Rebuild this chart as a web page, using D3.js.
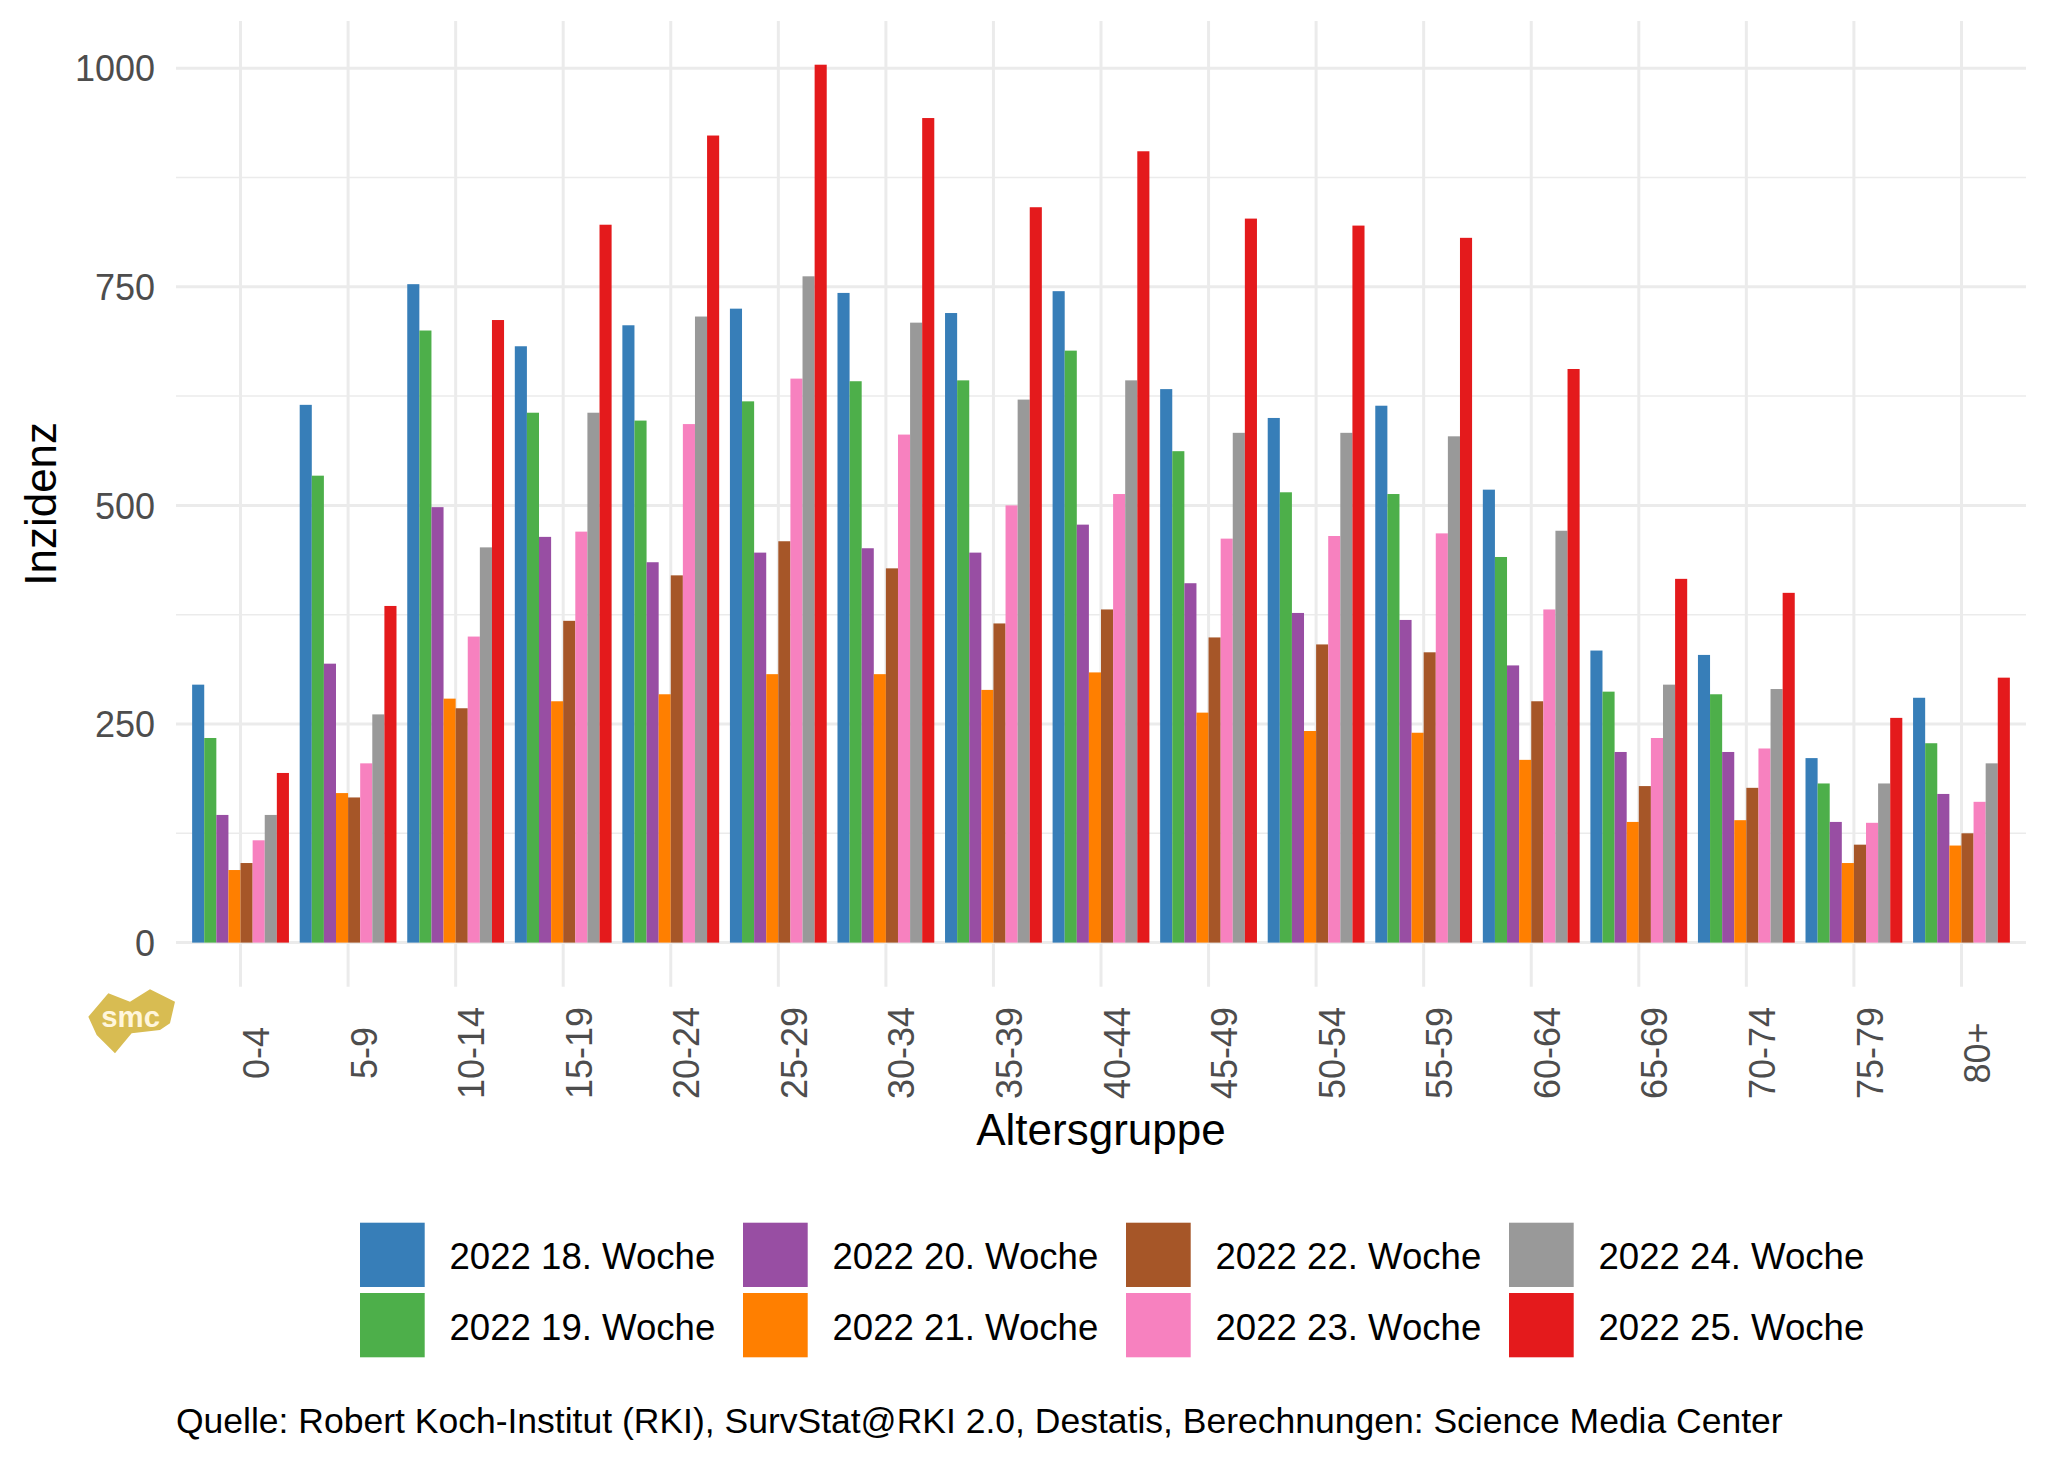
<!DOCTYPE html>
<html>
<head>
<meta charset="utf-8">
<script src="https://cdn.jsdelivr.net/npm/d3@7"></script>
<style>
  body { margin: 0; background: #fff; }
  svg { display: block; font-family: "Liberation Sans", Arial, sans-serif; }
</style>
</head>
<body>
<div id="chart"></div>
<script>

// Altersgruppen (x axis)
const ages = ['0-4', '5-9', '10-14', '15-19', '20-24', '25-29', '30-34', '35-39', '40-44',
              '45-49', '50-54', '55-59', '60-64', '65-69', '70-74', '75-79', '80+'];

const weeks = ['2022 18. Woche', '2022 19. Woche', '2022 20. Woche', '2022 21. Woche',
               '2022 22. Woche', '2022 23. Woche', '2022 24. Woche', '2022 25. Woche'];

// Inzidenz per week, one value per age group
const w18 = [295, 615, 753, 682, 706, 725, 743, 720, 745, 633, 600, 614, 518, 334, 329, 211, 280];
const w19 = [234, 534, 700, 606, 597, 619, 642, 643, 677, 562, 515, 513, 441, 287, 284, 182, 228];
const w20 = [146, 319, 498, 464, 435, 446, 451, 446, 478, 411, 377, 369, 317, 218, 218, 138, 170];
const w21 = [83, 171, 279, 276, 284, 307, 307, 289, 309, 263, 242, 240, 209, 138, 140, 91, 111];
const w22 = [91, 166, 268, 368, 420, 459, 428, 365, 381, 349, 341, 332, 276, 179, 177, 112, 125];
const w23 = [117, 205, 350, 470, 593, 645, 581, 500, 513, 462, 465, 468, 381, 234, 222, 137, 161];
const w24 = [146, 261, 452, 606, 716, 762, 709, 621, 643, 583, 583, 579, 471, 295, 290, 182, 205];
const w25 = [194, 385, 712, 821, 923, 1004, 943, 841, 905, 828, 820, 806, 656, 416, 400, 257, 303];

const colors = ['#377EB8', '#4DAF4A', '#984EA3', '#FF7F00', '#A65628', '#F781BF', '#999999', '#E41A1C'];

const yMajor = [0, 250, 500, 750, 1000];
const yMinor = [125, 375, 625, 875];

const caption = 'Quelle: Robert Koch-Institut (RKI), SurvStat@RKI 2.0, Destatis, Berechnungen: Science Media Center';

// table the bars are drawn from
let series = [w18, w19, w20, w21, w22, w23, w24, w25];
let rows = [];
series.forEach((vals, wi) => {
  vals.forEach((v, ai) => rows.push({ age: ages[ai], week: weeks[wi], value: v }));
});

let width = 2048,
    height = 1462,
    panel = { left: 176, right: 2026, top: 21, bottom: 986.7 };

let svg = d3.select('#chart')
  .append('svg')
  .attr('width', width)
  .attr('height', height);

let x = d3.scaleBand()
  .domain(ages)
  .range([panel.left, panel.right])
  .paddingInner(0.1)
  .paddingOuter(0.15);

let xWeek = d3.scaleBand()
  .domain(weeks)
  .range([0, x.bandwidth()]);

let y = d3.scaleLinear()
  .domain([0, 1000])
  .range([942.6, 68.2]);

let color = d3.scaleOrdinal().domain(weeks).range(colors);

// grid
let grid = svg.append('g');

grid.selectAll('line.minor')
  .data(yMinor)
  .join('line')
  .attr('class', 'minor')
  .attr('x1', panel.left).attr('x2', panel.right)
  .attr('y1', d => y(d)).attr('y2', d => y(d))
  .style('stroke', '#EBEBEB')
  .style('stroke-width', 1.5);

grid.selectAll('line.major')
  .data(yMajor)
  .join('line')
  .attr('class', 'major')
  .attr('x1', panel.left).attr('x2', panel.right)
  .attr('y1', d => y(d)).attr('y2', d => y(d))
  .style('stroke', '#EBEBEB')
  .style('stroke-width', 3);

grid.selectAll('line.vert')
  .data(ages)
  .join('line')
  .attr('class', 'vert')
  .attr('x1', d => x(d) + x.bandwidth() / 2).attr('x2', d => x(d) + x.bandwidth() / 2)
  .attr('y1', panel.top).attr('y2', panel.bottom)
  .style('stroke', '#EBEBEB')
  .style('stroke-width', 3);

// bars
svg.append('g')
  .selectAll('rect')
  .data(rows)
  .join('rect')
  .attr('x', d => x(d.age) + xWeek(d.week))
  .attr('width', xWeek.bandwidth())
  .attr('y', d => y(d.value))
  .attr('height', d => y(0) - y(d.value))
  .style('fill', d => color(d.week));

// y axis labels
let yAxis = svg.append('g')
  .attr('transform', 'translate(' + (panel.left - 21) + ',0)')
  .call(d3.axisLeft(y).tickValues(yMajor).tickFormat(d3.format('d')).tickSize(0).tickPadding(0));
yAxis.select('.domain').remove();
yAxis.selectAll('text')
  .style('font-family', '"Liberation Sans", Arial, sans-serif')
  .style('font-size', '36px')
  .style('fill', '#4D4D4D')
  .attr('dy', '0.35em');

// x axis labels, rotated
svg.append('g')
  .selectAll('text')
  .data(ages)
  .join('text')
  .attr('transform', d => 'translate(' + (x(d) + x.bandwidth() / 2 + 28.6) + ',1053) rotate(-90)')
  .attr('text-anchor', 'middle')
  .style('font-size', '36px')
  .style('fill', '#4D4D4D')
  .text(d => d);

// axis titles
svg.append('text')
  .attr('x', (panel.left + panel.right) / 2)
  .attr('y', 1145)
  .attr('text-anchor', 'middle')
  .style('font-size', '44px')
  .style('fill', '#000')
  .text('Altersgruppe');

svg.append('text')
  .attr('transform', 'translate(56,' + (panel.top + panel.bottom) / 2 + ') rotate(-90)')
  .attr('text-anchor', 'middle')
  .style('font-size', '44px')
  .style('fill', '#000')
  .text('Inzidenz');

// legend: 2 rows, filled column by column
let legend = svg.append('g')
  .selectAll('g')
  .data(weeks)
  .join('g')
  .attr('transform', (d, i) => 'translate(' + (360 + Math.floor(i / 2) * 383) + ',' + (1222.7 + (i % 2) * 70.3) + ')');

legend.append('rect')
  .attr('width', 64.7)
  .attr('height', 64.3)
  .style('fill', d => color(d));

legend.append('text')
  .attr('x', 89.5)
  .attr('y', 46.6)
  .style('font-size', '36.6px')
  .style('fill', '#000')
  .text(d => d);

// caption
svg.append('text')
  .attr('x', 176)
  .attr('y', 1433)
  .style('font-size', '35.5px')
  .style('fill', '#000')
  .text(caption);

// smc logo (rough)
let logo = svg.append('g').attr('transform', 'translate(60,960) scale(0.3333)');
logo.append('path')
  .attr('d', 'M85,170 L145,100 L210,125 L270,88 L345,125 L330,190 L300,210 L215,220 L165,280 L110,225 Z')
  .style('fill', '#D8BC52');
logo.append('text')
  .attr('x', 212)
  .attr('y', 200)
  .attr('text-anchor', 'middle')
  .style('font-size', '88px')
  .style('font-weight', 'bold')
  .style('fill', '#FFF6DC')
  .text('smc');

</script>
</body>
</html>
